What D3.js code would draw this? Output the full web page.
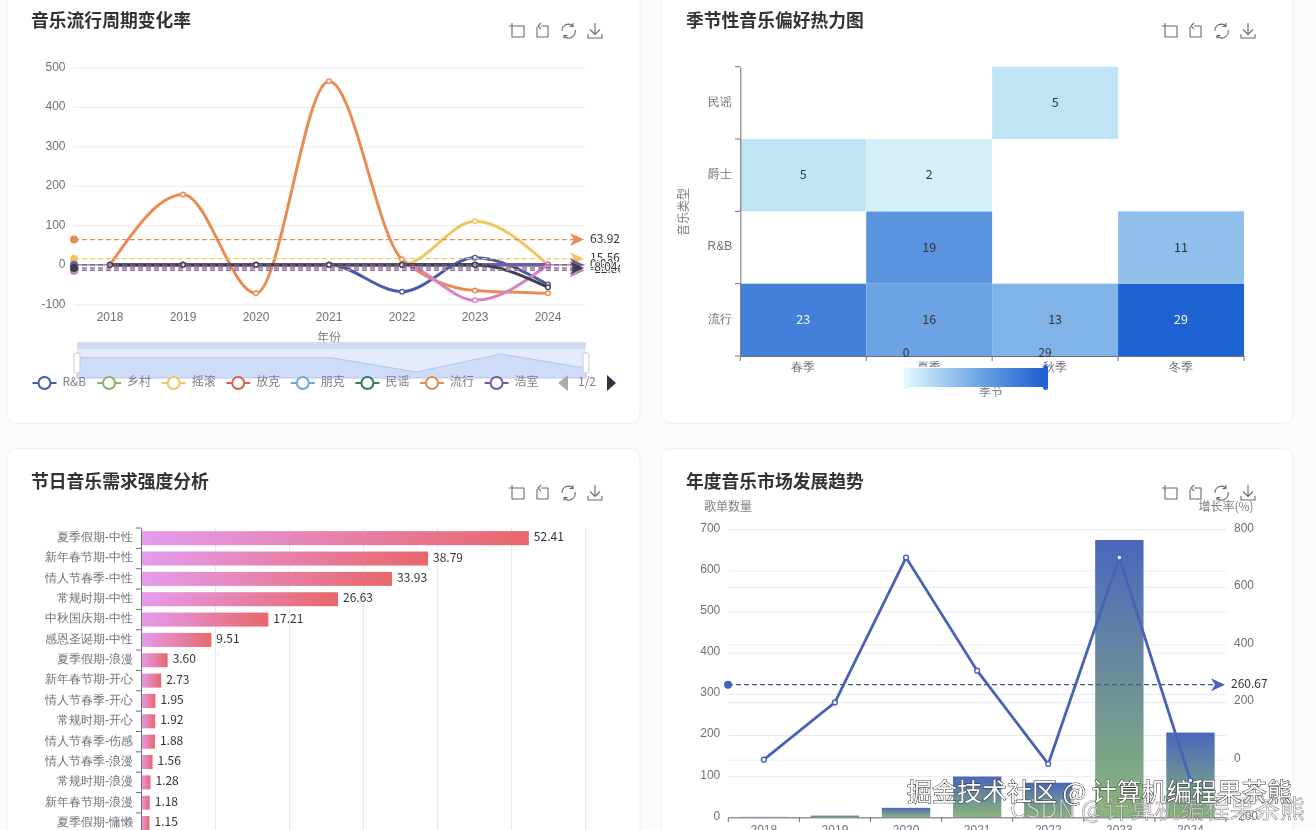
<!DOCTYPE html>
<html>
<head>
<meta charset="utf-8">
<title>音乐数据看板</title>
<script src="https://cdn.jsdelivr.net/npm/d3@7"></script>
<style>
  html, body { margin: 0; padding: 0; background: #fbfbfb; overflow: hidden; }
  svg { display: block; font-family: "Noto Sans CJK SC", "Noto Sans", sans-serif; filter: blur(0.4px); }
  .tick text { font-size: 12px; fill: #6e7079; }
  .title { font-size: 17.8px; font-weight: 700; fill: #333; }
  .name { font-size: 12px; fill: #7d7f87; }
  .val { font-size: 12px; fill: #333; }
</style>
</head>
<body>
<svg id="chart" width="1316" height="830"></svg>
<script>
// ---- 音乐流行周期变化率
var years = ["2018", "2019", "2020", "2021", "2022", "2023", "2024"];
var rnbRate = [0, 0, 0, 0, -68, 18, -50];
var countryRate = [0, 0, 0, 0, 0, 0, 0];
var rockRate = [0, 0, 0, 0, 0, 110, 0];
var funkRate = [0, 0, 0, 0, 0, 0, 0];
var punkRate = [0, 0, 0, 0, 0, 0, 0];
var folkRate = [0, 0, 0, 0, 0, 0, 0];
var popRate = [0, 178, -72, 465, 14, -65, -72];
var houseRate = [0, 0, 0, 0, 0, 0, 0];
var pinkRate = [0, 0, 0, 0, 0, -90, 0];
var darkRate = [0, 0, 0, 0, 0, 0, -57];
var legendNames = ["R&B", "乡村", "摇滚", "放克", "朋克", "民谣", "流行", "浩室"];
var rateAverages = [-14.29, -12.86, 15.56, 63.92, 0, -8.04];
var averageLabels = ["-14.29", "-12.86", "15.56", "63.92", "0.00", "-8.04"];

// ---- 季节性音乐偏好热力图
var seasons = ["春季", "夏季", "秋季", "冬季"];
var genres = ["流行", "R&B", "爵士", "民谣"];
var popSeason = [23, 16, 13, 29];
var rnbSeason = [null, 19, null, 11];
var jazzSeason = [5, 2, null, null];
var folkSeason = [null, null, 5, null];

// ---- 节日音乐需求强度分析
var holidayLabels = ["夏季假期-中性", "新年春节期-中性", "情人节春季-中性", "常规时期-中性", "中秋国庆期-中性",
  "感恩圣诞期-中性", "夏季假期-浪漫", "新年春节期-开心", "情人节春季-开心", "常规时期-开心",
  "情人节春季-伤感", "情人节春季-浪漫", "常规时期-浪漫", "新年春节期-浪漫", "夏季假期-慵懒"];
var holidayValues = [52.41, 38.79, 33.93, 26.63, 17.21, 9.51, 3.60, 2.73, 1.95, 1.92, 1.88, 1.56, 1.28, 1.18, 1.15];

// ---- 年度音乐市场发展趋势
var playlistCounts = [1, 4, 23, 99, 84, 674, 206];
var growthRates = [0, 199, 702, 309, -15, 702, -72];
var growthAverage = 260.67;

var axisColor = "#6e7079", gridColor = "#e8eaf0";
var svg = d3.select("#chart");
var defs = svg.append("defs");

function addGradient(id, x2, y2, stops) {
  var g = defs.append("linearGradient").attr("id", id)
    .attr("x1", 0).attr("y1", 0).attr("x2", x2).attr("y2", y2);
  stops.forEach(function (s, i) {
    g.append("stop").attr("offset", i / (stops.length - 1)).attr("stop-color", s);
  });
}
addGradient("barGrad", 1, 0, ["#e49cee", "#e8676a"]);
addGradient("yearGrad", 0, 1, ["#4a66bd", "#8ab678"]);
addGradient("heatGrad", 1, 0, ["#e0f8fe", "#74aae5", "#1f62d1"]);

// the crowded average labels end at this edge
defs.append("clipPath").attr("id", "avgClip").append("rect")
  .attr("x", 586).attr("y", 220).attr("width", 34).attr("height", 60);

// cards
[[7, -20, 633, 443], [661, -20, 632, 443], [7, 449, 633, 420], [661, 449, 632, 420]].forEach(function (c) {
  svg.append("rect").attr("x", c[0]).attr("y", c[1]).attr("width", c[2]).attr("height", c[3])
    .attr("rx", 9).attr("fill", "#fff").attr("stroke", "#f0f0f2");
});

function title(txt, x, y) {
  svg.append("text").attr("class", "title").attr("x", x).attr("y", y).text(txt);
}
title("音乐流行周期变化率", 31, 27);
title("季节性音乐偏好热力图", 686, 27);
title("节日音乐需求强度分析", 31, 488);
title("年度音乐市场发展趋势", 686, 488);

function toolbox(x, y) {
  var t = svg.append("g").attr("transform", "translate(" + x + "," + y + ")")
    .attr("fill", "none").attr("stroke", "#6a6a6a").attr("stroke-width", 1.1);
  t.append("path").attr("d", "M3 0V14H15V3H0");
  t.append("path").attr("transform", "translate(26,0)").attr("d", "M2 4V14H13V3H6M6 0L3 3L6 6");
  t.append("path").attr("transform", "translate(51,0)")
    .attr("d", "M2 8A6.5 6.5 0 0 1 13 3M15 7A6.5 6.5 0 0 1 4 13M13 0V3.5H9.5M4 15.5V12.5H7.5");
  t.append("path").attr("transform", "translate(79,0)").attr("d", "M7 0V11M2 6.5L7 11.5L12 6.5M0 11V15H14V11");
}
toolbox(509, 23);
toolbox(1162, 23);
toolbox(509, 485);
toolbox(1162, 485);

function cleanAxis(g) {
  g.select(".domain").remove();
  g.selectAll(".tick line").attr("stroke", gridColor);
}
var plainNumber = function (d) { return String(d); };

// ---------------- chart 1: smooth lines
(function () {
  var x = d3.scaleBand().domain(years).range([73.5, 584.5]);
  var y = d3.scaleLinear().domain([-100, 500]).range([304.3, 67.3]);
  svg.append("g").attr("transform", "translate(73.5,0)")
    .call(d3.axisLeft(y).tickValues([-100, 0, 100, 200, 300, 400, 500]).tickFormat(plainNumber).tickSize(-511).tickPadding(8))
    .call(cleanAxis)
    .selectAll("text").attr("y", -1);
  svg.append("g").attr("transform", "translate(0,304.3)")
    .call(d3.axisBottom(x).tickSize(0).tickPadding(8)).call(cleanAxis);
  svg.append("line").attr("x1", 73.5).attr("x2", 584.5).attr("y1", y(0)).attr("y2", y(0))
    .attr("stroke", axisColor);
  svg.append("text").attr("class", "name").attr("x", 329).attr("y", 342).attr("text-anchor", "middle").text("年份");

  // zoom slider, its shadow follows the first series
  var sx = d3.scalePoint().domain(years).range([77, 586]);
  var sy = d3.scaleLinear().domain([-68, 18]).range([372, 354]);
  svg.append("rect").attr("x", 77).attr("y", 342).attr("width", 509).attr("height", 36).attr("fill", "#e2eafc");
  svg.append("rect").attr("x", 77).attr("y", 342).attr("width", 509).attr("height", 7).attr("fill", "#d3dcee");
  svg.append("path").datum(rnbRate)
    .attr("d", d3.area().x(function (d, i) { return sx(years[i]); }).y0(378).y1(function (d) { return sy(d); }))
    .attr("fill", "#cfdcf7").attr("stroke", "#b4c6ee");
  [77, 586].forEach(function (h) {
    svg.append("rect").attr("x", h - 3).attr("y", 353).attr("width", 6).attr("height", 20).attr("rx", 2)
      .attr("fill", "#fff").attr("stroke", "#c6cbd6");
  });

  var seriesList = [
    [rnbRate, "#4a5ba9"], [countryRate, "#86b36a"], [rockRate, "#ecc863"], [funkRate, "#d8604c"],
    [punkRate, "#6fa8d6"], [folkRate, "#2e7d5b"], [popRate, "#e88c54"], [houseRate, "#7d55a8"],
    [pinkRate, "#d983c2"], [darkRate, "#3d4049"]
  ];
  var line = d3.line().x(function (d, i) { return x(years[i]) + x.bandwidth() / 2; })
    .y(function (d) { return y(d); }).curve(d3.curveMonotoneX);
  seriesList.forEach(function (s) {
    svg.append("path").datum(s[0]).attr("d", line).attr("fill", "none").attr("stroke", s[1]).attr("stroke-width", 3);
    svg.append("g").selectAll("circle").data(s[0]).join("circle")
      .attr("cx", function (d, i) { return x(years[i]) + x.bandwidth() / 2; })
      .attr("cy", function (d) { return y(d); })
      .attr("r", 2.3).attr("fill", "#fff").attr("stroke", s[1]).attr("stroke-width", 1.4);
  });

  // average mark lines, last label sits on top of the crowded ones
  var avgColors = ["#4a5ba9", "#d983c2", "#ecc863", "#e88c54", "#7d55a8", "#3d4049"];
  rateAverages.forEach(function (v, i) {
    var c = avgColors[i];
    svg.append("line").attr("x1", 74).attr("x2", 574).attr("y1", y(v)).attr("y2", y(v))
      .attr("stroke", c).attr("stroke-width", 1.2).attr("stroke-dasharray", "5 3");
    svg.append("circle").attr("cx", 74).attr("cy", y(v)).attr("r", 4).attr("fill", c);
    svg.append("path").attr("transform", "translate(584," + y(v) + ")")
      .attr("d", "M-14 -6.5L0 0L-14 6.5L-10 0Z").attr("fill", c);
    svg.append("text").attr("class", "val").attr("x", 590).attr("y", y(v) + 3)
      .attr("clip-path", "url(#avgClip)")
      .attr("stroke", "#fff").attr("stroke-width", 2).attr("paint-order", "stroke").text(averageLabels[i]);
  });

  // legend, first page
  var legendColors = ["#4a5ba9", "#86b36a", "#ecc863", "#d8604c", "#6fa8d6", "#2e7d5b", "#e88c54", "#7d55a8"];
  var legendX = d3.scalePoint().domain(legendNames).range([44.5, 496.6]);
  legendNames.forEach(function (n, i) {
    var cx = legendX(n), c = legendColors[i];
    svg.append("line").attr("x1", cx - 12).attr("x2", cx + 12).attr("y1", 383).attr("y2", 383)
      .attr("stroke", c).attr("stroke-width", 2);
    svg.append("circle").attr("cx", cx).attr("cy", 383).attr("r", 6).attr("fill", "#fff")
      .attr("stroke", c).attr("stroke-width", 2);
    svg.append("text").attr("class", "name").attr("x", cx + 18).attr("y", 386).text(n);
  });
  svg.append("path").attr("d", "M568 375L558 383L568 391Z").attr("fill", "#aaa");
  svg.append("path").attr("d", "M607 375L616 383L607 391Z").attr("fill", "#2f3542");
  svg.append("text").attr("class", "name").attr("x", 578).attr("y", 386).text("1/2");
})();

// ---------------- chart 2: heatmap
(function () {
  var x = d3.scaleBand().domain(seasons).range([740.3, 1244]);
  var y = d3.scaleBand().domain(genres).range([356, 66.7]);
  var color = d3.scaleLinear().domain([0, 5, 14.5, 29]).range(["#e0f8fe", "#c0e4f5", "#74aae5", "#1f62d1"]);
  var rows = [popSeason, rnbSeason, jazzSeason, folkSeason];
  rows.forEach(function (row, r) {
    row.forEach(function (v, c) {
      if (v === null) return;
      svg.append("rect").attr("x", x(seasons[c])).attr("y", y(genres[r]))
        .attr("width", x.bandwidth()).attr("height", y.bandwidth()).attr("fill", color(v));
      svg.append("text").attr("x", x(seasons[c]) + x.bandwidth() / 2).attr("y", y(genres[r]) + y.bandwidth() / 2 + 4)
        .attr("text-anchor", "middle").attr("font-size", 12.5)
        .attr("fill", v > 20 ? "#f2f8ff" : "#333").text(v);
    });
  });
  var left = svg.append("g").attr("transform", "translate(740.3,0)")
    .call(d3.axisLeft(y).tickSize(0).tickPadding(8));
  left.select(".domain").attr("stroke", axisColor);
  left.selectAll("text").attr("y", -1);
  d3.range(5).forEach(function (i) {
    var py = 356 - i * y.step();
    svg.append("line").attr("x1", 735).attr("x2", 740.3).attr("y1", py).attr("y2", py).attr("stroke", axisColor);
  });
  var bottom = svg.append("g").attr("transform", "translate(0,356)")
    .call(d3.axisBottom(x).tickSize(0).tickPadding(6));
  bottom.select(".domain").attr("stroke", axisColor);
  d3.range(5).forEach(function (i) {
    var px = 740.3 + i * x.step();
    svg.append("line").attr("x1", px).attr("x2", px).attr("y1", 356).attr("y2", 361).attr("stroke", axisColor);
  });
  svg.append("text").attr("class", "name").attr("transform", "translate(688,212) rotate(-90)")
    .attr("text-anchor", "middle").attr("font-size", 11).text("音乐类型");
  svg.append("text").attr("class", "name").attr("x", 991).attr("y", 396).attr("text-anchor", "middle").text("季节");

  // visual map
  svg.append("rect").attr("x", 900).attr("y", 367).attr("width", 148).attr("height", 20).attr("fill", "#fff");
  svg.append("rect").attr("x", 905).attr("y", 368).attr("width", 138).attr("height", 19).attr("fill", "url(#heatGrad)");
  svg.append("rect").attr("x", 904).attr("y", 367).attr("width", 5).attr("height", 22).attr("rx", 2).attr("fill", color(0));
  svg.append("rect").attr("x", 1043).attr("y", 365).attr("width", 5).attr("height", 25).attr("rx", 2.5).attr("fill", color(29));
  svg.append("text").attr("class", "val").attr("x", 906).attr("y", 357).attr("text-anchor", "middle").text("0");
  svg.append("text").attr("class", "val").attr("x", 1045).attr("y", 357).attr("text-anchor", "middle").text("29");
})();

// ---------------- chart 3: horizontal bars
(function () {
  var x = d3.scaleLinear().domain([0, 60]).range([141, 585]);
  var y = d3.scaleBand().domain(holidayLabels).range([528, 833.25]).paddingInner(0.31).paddingOuter(0.155);
  svg.append("g").attr("transform", "translate(0,850)")
    .call(d3.axisBottom(x).ticks(6).tickSize(-322)).call(cleanAxis)
    .selectAll("text").remove(); // the value labels lie below the visible part of the page
  svg.selectAll("rect.hbar").data(holidayValues).join("rect").attr("class", "hbar")
    .attr("x", x(0)).attr("y", function (d, i) { return y(holidayLabels[i]); })
    .attr("width", function (d) { return x(d) - x(0); }).attr("height", y.bandwidth())
    .attr("fill", "url(#barGrad)");
  svg.selectAll("text.hval").data(holidayValues).join("text").attr("class", "hval val")
    .attr("x", function (d) { return x(d) + 5; })
    .attr("y", function (d, i) { return y(holidayLabels[i]) + y.bandwidth() / 2 + 3; })
    .text(function (d) { return d.toFixed(2); });
  var left = svg.append("g").attr("transform", "translate(141,0)")
    .call(d3.axisLeft(y).tickSize(0).tickPadding(8));
  left.select(".domain").attr("stroke", axisColor);
  left.selectAll("text").attr("y", -1);
  d3.range(16).forEach(function (i) {
    var py = 528 + i * y.step();
    svg.append("line").attr("x1", 136).attr("x2", 141).attr("y1", py).attr("y2", py).attr("stroke", axisColor);
  });
})();

// ---------------- chart 4: bars and growth line
(function () {
  var x = d3.scaleBand().domain(years).range([728.3, 1226]).paddingInner(0.32).paddingOuter(0.16);
  var y = d3.scaleLinear().domain([0, 700]).range([817.3, 529.3]);
  var y2 = d3.scaleLinear().domain([-200, 800]).range([817.3, 529.3]);
  var cx = function (i) { return x(years[i]) + x.bandwidth() / 2; };
  svg.append("g").attr("transform", "translate(728.3,0)")
    .call(d3.axisLeft(y).tickValues(d3.range(0, 701, 100)).tickFormat(plainNumber).tickSize(-497.7).tickPadding(8)).call(cleanAxis)
    .selectAll("text").attr("y", -2);
  svg.append("g").attr("transform", "translate(1226,0)")
    .call(d3.axisRight(y2).tickValues(d3.range(-200, 801, 200)).tickFormat(plainNumber).tickSize(-497.7).tickPadding(8)).call(cleanAxis)
    .selectAll("text").attr("y", -2);
  svg.selectAll("rect.ybar").data(playlistCounts).join("rect").attr("class", "ybar")
    .attr("x", function (d, i) { return x(years[i]); }).attr("y", function (d) { return y(d); })
    .attr("width", x.bandwidth()).attr("height", function (d) { return y(0) - y(d); })
    .attr("fill", "url(#yearGrad)");
  var bottom = svg.append("g").attr("transform", "translate(0,817.3)")
    .call(d3.axisBottom(x).tickSize(0).tickPadding(8));
  bottom.select(".domain").attr("stroke", axisColor);
  d3.range(8).forEach(function (i) {
    var px = 728.3 + i * x.step();
    svg.append("line").attr("x1", px).attr("x2", px).attr("y1", 817.3).attr("y2", 822).attr("stroke", axisColor);
  });
  svg.append("path").datum(growthRates)
    .attr("d", d3.line().x(function (d, i) { return cx(i); }).y(function (d) { return y2(d); }))
    .attr("fill", "none").attr("stroke", "#4a62b4").attr("stroke-width", 2.8);
  svg.append("g").selectAll("circle").data(growthRates).join("circle")
    .attr("cx", function (d, i) { return cx(i); }).attr("cy", function (d) { return y2(d); })
    .attr("r", 2.4).attr("fill", "#fff").attr("stroke", "#4a62b4").attr("stroke-width", 1.4);

  var my = y2(growthAverage);
  svg.append("line").attr("x1", 728).attr("x2", 1214).attr("y1", my).attr("y2", my)
    .attr("stroke", "#4a5a90").attr("stroke-width", 1.1).attr("stroke-dasharray", "5 3");
  svg.append("circle").attr("cx", 728).attr("cy", my).attr("r", 4).attr("fill", "#4a62b4");
  svg.append("path").attr("transform", "translate(1225," + my + ")")
    .attr("d", "M-14 -6.5L0 0L-14 6.5L-10 0Z").attr("fill", "#4a62b4");
  svg.append("text").attr("class", "val").attr("x", 1231).attr("y", my + 3).text(growthAverage);
  svg.append("text").attr("class", "name").attr("x", 728).attr("y", 511).attr("text-anchor", "middle").text("歌单数量");
  svg.append("text").attr("class", "name").attr("x", 1226).attr("y", 511).attr("text-anchor", "middle").text("增长率(%)");
})();

// watermarks over the picture
svg.append("text").attr("x", 1010).attr("y", 818).attr("font-size", 25)
  .attr("fill", "rgba(255,255,255,0.5)").attr("stroke", "rgba(110,110,110,0.7)").attr("stroke-width", 0.7)
  .text("CSDN @计算机编程果茶熊");
svg.append("text").attr("x", 907).attr("y", 801).attr("font-size", 25)
  .attr("fill", "#fff").attr("stroke", "#2a2a2a").attr("stroke-width", 1).attr("paint-order", "stroke")
  .text("掘金技术社区 @ 计算机编程果茶熊");
</script>
</body>
</html>
